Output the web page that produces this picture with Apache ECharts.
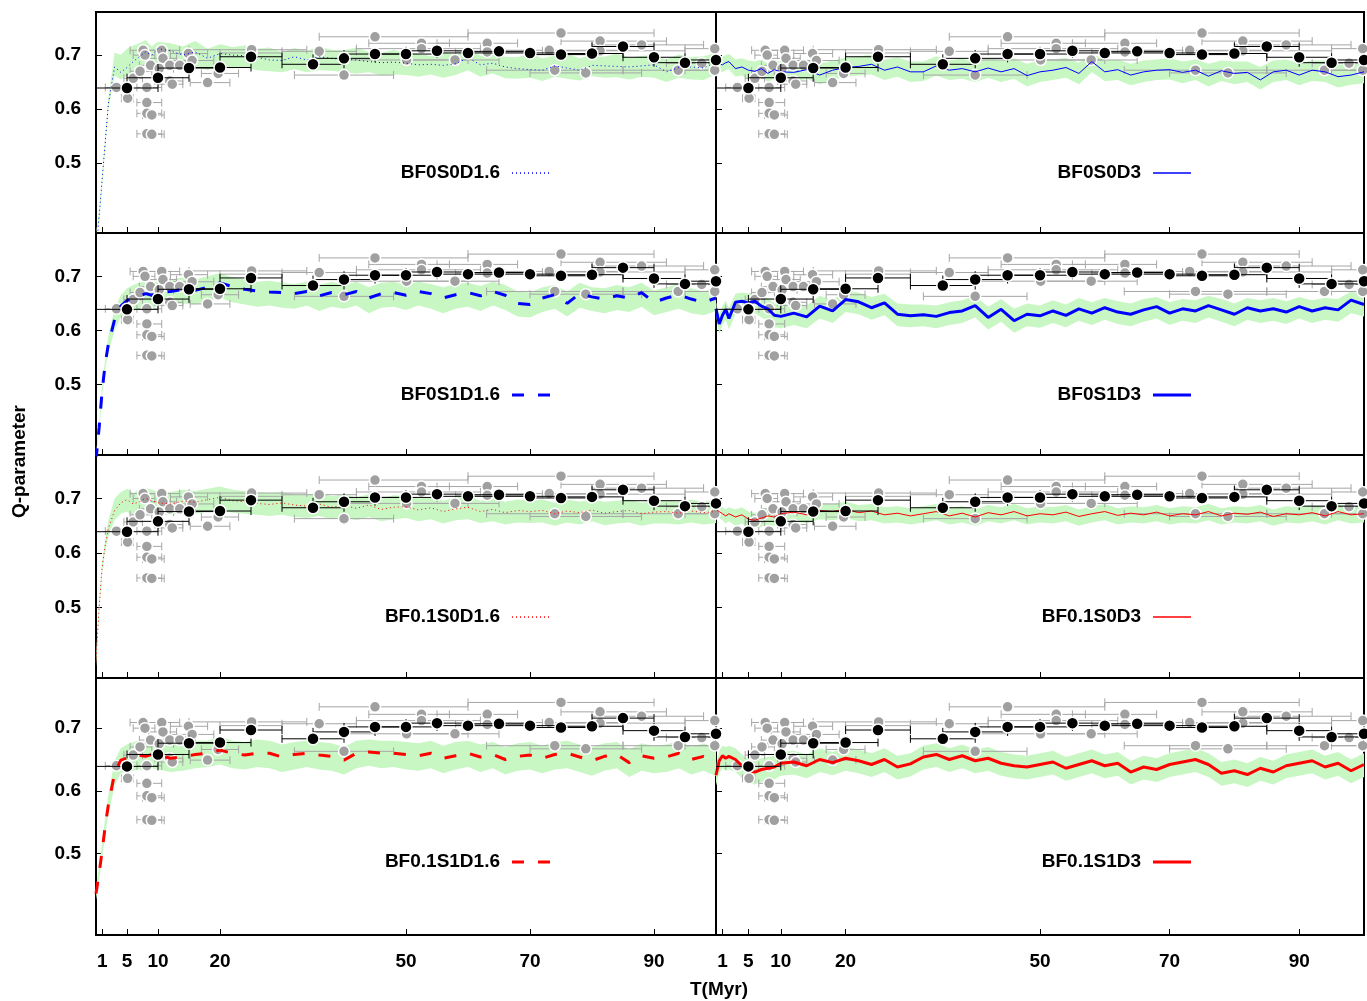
<!DOCTYPE html>
<html>
<head>
<meta charset="utf-8">
<title>Q-parameter vs T</title>
<script src="https://cdn.jsdelivr.net/npm/echarts@6/dist/echarts.min.js"></script>
<style>
  html, body { margin: 0; padding: 0; background: #fff; }
  #chart { width: 1367px; height: 1001px; }
</style>
</head>
<body>
<div id="chart"></div>
<script>
// time grid of the simulation curves (Myr)
var T_SIM = [0,0.5,1,1.5,2,3,4,5,6,7,8,9,10,
  12,14,16,18,20,22,24,26,28,30,
  32,34,36,38,40,42,44,46,48,50,
  52,54,56,58,60,62,64,66,68,70,
  72,74,76,78,80,82,84,86,88,90,
  92,94,96,98,100];

// BF0S0D1.6
var Q_BF0S0D16 = [0.33,0.40,0.47,0.54,0.61,0.678,0.668,0.677,0.688,0.697,0.706,0.700,0.712,
  0.708,0.700,0.706,0.694,0.703,0.700,0.699,0.696,0.691,0.690,
  0.697,0.691,0.697,0.694,0.692,0.691,0.688,0.686,0.687,0.685,
  0.682,0.683,0.681,0.684,0.695,0.682,0.685,0.678,0.675,0.673,
  0.672,0.680,0.676,0.672,0.681,0.680,0.679,0.678,0.680,0.682,
  0.669,0.677,0.678,0.676,0.687];
var HI_BF0S0D16 = [0.34,0.41,0.48,0.55,0.62,0.705,0.700,0.712,0.718,0.722,0.728,0.716,0.725,
  0.722,0.716,0.726,0.712,0.720,0.715,0.718,0.712,0.714,0.706,
  0.713,0.708,0.716,0.710,0.709,0.714,0.706,0.704,0.710,0.702,
  0.703,0.698,0.706,0.700,0.712,0.699,0.704,0.697,0.696,0.703,
  0.694,0.699,0.702,0.694,0.700,0.697,0.703,0.695,0.699,0.700,
  0.692,0.701,0.696,0.698,0.704];
var LO_BF0S0D16 = [0.32,0.39,0.46,0.53,0.60,0.662,0.655,0.662,0.668,0.674,0.682,0.676,0.686,
  0.684,0.676,0.680,0.672,0.681,0.675,0.678,0.672,0.670,0.668,
  0.674,0.668,0.672,0.671,0.668,0.666,0.668,0.662,0.664,0.663,
  0.660,0.664,0.658,0.663,0.672,0.660,0.666,0.657,0.656,0.658,
  0.652,0.660,0.656,0.653,0.661,0.658,0.659,0.655,0.660,0.658,
  0.650,0.658,0.655,0.654,0.664];

// BF0S0D3
var Q_BF0S0D3 = [0.688,0.684,0.682,0.686,0.688,0.675,0.678,0.672,0.670,0.675,0.666,0.673,0.669,
  0.668,0.673,0.663,0.672,0.677,0.679,0.683,0.672,0.678,0.669,
  0.669,0.680,0.672,0.675,0.669,0.676,0.669,0.675,0.662,0.669,
  0.672,0.677,0.666,0.688,0.669,0.673,0.663,0.669,0.672,0.673,
  0.668,0.672,0.661,0.671,0.666,0.668,0.654,0.669,0.672,0.663,
  0.672,0.669,0.660,0.663,0.669];
var HI_BF0S0D3 = [0.700,0.698,0.697,0.700,0.702,0.692,0.694,0.690,0.688,0.692,0.684,0.690,0.688,
  0.686,0.692,0.684,0.690,0.695,0.698,0.700,0.692,0.696,0.688,
  0.688,0.698,0.690,0.694,0.686,0.695,0.690,0.694,0.684,0.690,
  0.692,0.695,0.686,0.704,0.690,0.692,0.684,0.690,0.692,0.694,
  0.688,0.692,0.684,0.690,0.688,0.688,0.678,0.690,0.692,0.684,
  0.690,0.690,0.682,0.684,0.688];
var LO_BF0S0D3 = [0.676,0.672,0.668,0.672,0.674,0.660,0.662,0.655,0.654,0.660,0.650,0.656,0.652,
  0.650,0.656,0.646,0.654,0.660,0.662,0.664,0.654,0.660,0.650,
  0.652,0.662,0.654,0.656,0.650,0.658,0.650,0.656,0.642,0.650,
  0.654,0.658,0.646,0.668,0.652,0.654,0.644,0.650,0.654,0.655,
  0.648,0.654,0.642,0.652,0.646,0.650,0.636,0.650,0.654,0.644,
  0.652,0.650,0.640,0.645,0.648];

// BF0S1D1.6
var Q_BF0S1D16 = [0.36,0.42,0.49,0.54,0.575,0.62,0.645,0.655,0.660,0.663,0.668,0.665,0.670,
  0.672,0.676,0.674,0.680,0.688,0.681,0.676,0.673,0.671,0.670,
  0.668,0.672,0.664,0.670,0.666,0.672,0.660,0.668,0.670,0.665,
  0.672,0.668,0.660,0.666,0.670,0.664,0.672,0.665,0.650,0.648,
  0.660,0.666,0.650,0.668,0.662,0.658,0.664,0.660,0.670,0.652,
  0.660,0.666,0.658,0.652,0.660];
var HI_BF0S1D16 = [0.37,0.43,0.50,0.55,0.59,0.64,0.665,0.678,0.684,0.688,0.690,0.686,0.692,
  0.694,0.698,0.694,0.700,0.706,0.698,0.694,0.690,0.692,0.688,
  0.686,0.690,0.684,0.690,0.684,0.690,0.680,0.688,0.690,0.684,
  0.690,0.686,0.680,0.686,0.688,0.682,0.690,0.684,0.672,0.670,
  0.680,0.684,0.672,0.688,0.680,0.678,0.684,0.680,0.688,0.674,
  0.680,0.686,0.678,0.672,0.680];
var LO_BF0S1D16 = [0.35,0.41,0.48,0.53,0.56,0.60,0.625,0.632,0.636,0.640,0.644,0.640,0.646,
  0.648,0.650,0.648,0.654,0.660,0.652,0.648,0.644,0.646,0.642,
  0.640,0.646,0.636,0.644,0.640,0.646,0.632,0.642,0.644,0.638,
  0.646,0.640,0.632,0.640,0.644,0.636,0.646,0.638,0.626,0.624,
  0.634,0.640,0.626,0.642,0.636,0.632,0.638,0.634,0.644,0.628,
  0.634,0.640,0.632,0.628,0.636];

// BF0S1D3
var Q_BF0S1D3 = [0.640,0.612,0.628,0.639,0.622,0.652,0.654,0.651,0.654,0.645,0.640,0.628,0.626,
  0.632,0.625,0.645,0.636,0.657,0.653,0.642,0.651,0.630,0.627,
  0.629,0.626,0.633,0.636,0.646,0.624,0.639,0.618,0.630,0.627,
  0.636,0.628,0.640,0.632,0.642,0.634,0.630,0.638,0.644,0.632,
  0.640,0.636,0.646,0.638,0.630,0.642,0.636,0.640,0.634,0.644,
  0.636,0.642,0.638,0.656,0.648];
var HI_BF0S1D3 = [0.652,0.630,0.646,0.655,0.642,0.668,0.670,0.668,0.672,0.664,0.660,0.650,0.648,
  0.652,0.646,0.664,0.656,0.674,0.670,0.662,0.668,0.650,0.648,
  0.648,0.646,0.652,0.656,0.664,0.644,0.658,0.640,0.650,0.646,
  0.656,0.648,0.660,0.652,0.660,0.654,0.650,0.658,0.662,0.652,
  0.658,0.656,0.664,0.658,0.650,0.660,0.656,0.660,0.654,0.662,
  0.656,0.660,0.658,0.672,0.666];
var LO_BF0S1D3 = [0.628,0.594,0.610,0.620,0.602,0.630,0.632,0.630,0.632,0.624,0.618,0.606,0.604,
  0.610,0.604,0.622,0.614,0.634,0.630,0.620,0.628,0.608,0.606,
  0.608,0.604,0.610,0.614,0.624,0.602,0.616,0.596,0.608,0.605,
  0.614,0.606,0.618,0.610,0.620,0.612,0.608,0.616,0.622,0.610,
  0.618,0.614,0.624,0.616,0.608,0.620,0.614,0.618,0.612,0.622,
  0.614,0.620,0.616,0.632,0.626];

// BF0.1S0D1.6
var Q_BF01S0D16 = [0.40,0.50,0.575,0.615,0.645,0.678,0.692,0.698,0.690,0.694,0.700,0.696,0.692,
  0.690,0.695,0.693,0.698,0.702,0.696,0.694,0.691,0.689,0.692,
  0.688,0.686,0.690,0.684,0.687,0.682,0.688,0.680,0.684,0.685,
  0.679,0.683,0.676,0.681,0.684,0.676,0.680,0.674,0.678,0.676,
  0.678,0.672,0.677,0.674,0.679,0.673,0.676,0.678,0.672,0.675,
  0.676,0.673,0.677,0.674,0.676];
var HI_BF01S0D16 = [0.41,0.51,0.585,0.625,0.660,0.700,0.712,0.718,0.710,0.716,0.720,0.716,0.712,
  0.712,0.716,0.714,0.718,0.722,0.716,0.714,0.712,0.710,0.712,
  0.708,0.706,0.712,0.704,0.708,0.702,0.708,0.700,0.706,0.704,
  0.700,0.702,0.696,0.702,0.704,0.696,0.700,0.694,0.698,0.696,
  0.698,0.692,0.698,0.694,0.698,0.694,0.696,0.698,0.692,0.696,
  0.696,0.694,0.698,0.694,0.698];
var LO_BF01S0D16 = [0.39,0.49,0.565,0.605,0.630,0.660,0.672,0.676,0.668,0.672,0.680,0.674,0.670,
  0.670,0.674,0.672,0.676,0.680,0.674,0.672,0.670,0.668,0.670,
  0.666,0.664,0.668,0.662,0.666,0.660,0.666,0.658,0.662,0.664,
  0.658,0.662,0.654,0.660,0.662,0.655,0.658,0.652,0.656,0.655,
  0.656,0.650,0.656,0.652,0.658,0.651,0.654,0.656,0.650,0.654,
  0.654,0.652,0.656,0.652,0.655];

// BF0.1S0D3
var Q_BF01S0D3 = [0.680,0.676,0.672,0.668,0.672,0.666,0.670,0.662,0.660,0.664,0.668,0.666,0.672,
  0.675,0.670,0.678,0.676,0.680,0.674,0.677,0.670,0.673,0.668,
  0.672,0.676,0.668,0.673,0.666,0.674,0.670,0.676,0.668,0.672,
  0.670,0.675,0.667,0.672,0.676,0.669,0.673,0.670,0.675,0.668,
  0.672,0.670,0.676,0.668,0.673,0.671,0.675,0.667,0.672,0.670,
  0.674,0.668,0.676,0.670,0.672];
var HI_BF01S0D3 = [0.690,0.688,0.684,0.680,0.684,0.680,0.684,0.676,0.674,0.678,0.682,0.680,0.686,
  0.688,0.684,0.692,0.690,0.694,0.688,0.690,0.684,0.686,0.682,
  0.686,0.690,0.682,0.686,0.680,0.688,0.684,0.690,0.682,0.686,
  0.684,0.688,0.680,0.686,0.690,0.682,0.686,0.684,0.688,0.682,
  0.686,0.684,0.690,0.682,0.686,0.684,0.688,0.680,0.686,0.684,
  0.688,0.682,0.690,0.684,0.686];
var LO_BF01S0D3 = [0.668,0.664,0.660,0.654,0.658,0.650,0.654,0.646,0.645,0.648,0.652,0.650,0.656,
  0.658,0.654,0.662,0.660,0.664,0.658,0.660,0.654,0.656,0.652,
  0.656,0.660,0.652,0.656,0.650,0.658,0.654,0.660,0.652,0.656,
  0.654,0.658,0.650,0.656,0.660,0.652,0.656,0.654,0.658,0.652,
  0.656,0.654,0.660,0.652,0.656,0.654,0.658,0.650,0.656,0.654,
  0.658,0.652,0.660,0.654,0.656];

// BF0.1S1D1.6
var Q_BF01S1D16 = [0.436,0.468,0.505,0.545,0.578,0.628,0.649,0.652,0.655,0.657,0.655,0.658,0.657,
  0.652,0.654,0.658,0.660,0.665,0.660,0.657,0.660,0.660,0.654,
  0.658,0.660,0.657,0.655,0.649,0.660,0.662,0.660,0.660,0.658,
  0.656,0.660,0.652,0.656,0.660,0.654,0.658,0.650,0.655,0.657,
  0.652,0.658,0.660,0.654,0.648,0.655,0.658,0.645,0.656,0.652,
  0.654,0.660,0.650,0.655,0.645];
var HI_BF01S1D16 = [0.446,0.480,0.518,0.560,0.594,0.648,0.668,0.674,0.678,0.680,0.678,0.680,0.678,
  0.674,0.676,0.680,0.680,0.686,0.680,0.678,0.682,0.680,0.674,
  0.678,0.680,0.678,0.676,0.670,0.680,0.682,0.680,0.680,0.678,
  0.676,0.680,0.672,0.678,0.680,0.674,0.678,0.670,0.676,0.678,
  0.672,0.678,0.680,0.674,0.670,0.676,0.678,0.666,0.676,0.672,
  0.674,0.680,0.670,0.676,0.668];
var LO_BF01S1D16 = [0.426,0.456,0.492,0.530,0.562,0.608,0.628,0.630,0.632,0.634,0.632,0.636,0.634,
  0.630,0.632,0.636,0.638,0.642,0.636,0.634,0.638,0.636,0.630,
  0.634,0.638,0.634,0.632,0.626,0.636,0.640,0.636,0.638,0.634,
  0.632,0.636,0.628,0.634,0.638,0.630,0.636,0.626,0.632,0.634,
  0.628,0.634,0.636,0.630,0.624,0.632,0.636,0.622,0.632,0.628,
  0.630,0.636,0.626,0.632,0.624];

// BF0.1S1D3
var Q_BF01S1D3 = [0.625,0.648,0.656,0.652,0.655,0.650,0.640,0.632,0.630,0.634,0.636,0.638,0.644,
  0.646,0.640,0.650,0.645,0.652,0.648,0.642,0.650,0.638,0.643,
  0.654,0.658,0.650,0.656,0.648,0.652,0.644,0.640,0.638,0.642,
  0.646,0.636,0.642,0.648,0.640,0.644,0.630,0.638,0.634,0.642,
  0.646,0.650,0.642,0.628,0.632,0.626,0.636,0.630,0.640,0.644,
  0.648,0.638,0.644,0.632,0.642];
var HI_BF01S1D3 = [0.640,0.664,0.672,0.670,0.672,0.668,0.658,0.650,0.648,0.652,0.654,0.656,0.662,
  0.664,0.658,0.668,0.662,0.670,0.666,0.660,0.668,0.656,0.660,
  0.672,0.676,0.668,0.674,0.666,0.670,0.662,0.658,0.656,0.660,
  0.664,0.654,0.660,0.666,0.658,0.662,0.648,0.656,0.652,0.660,
  0.664,0.668,0.660,0.646,0.650,0.644,0.654,0.648,0.658,0.662,
  0.666,0.656,0.662,0.650,0.660];
var LO_BF01S1D3 = [0.608,0.628,0.636,0.632,0.634,0.630,0.620,0.612,0.610,0.614,0.616,0.618,0.624,
  0.626,0.620,0.630,0.625,0.632,0.628,0.622,0.630,0.618,0.623,
  0.634,0.638,0.630,0.636,0.628,0.632,0.624,0.620,0.618,0.622,
  0.626,0.616,0.622,0.628,0.620,0.624,0.610,0.618,0.614,0.622,
  0.626,0.630,0.622,0.608,0.612,0.606,0.616,0.610,0.620,0.624,
  0.628,0.618,0.624,0.612,0.622];

// observed clusters, binned (black)
var OBS_T    = [5,10,15,20,25,35,40,45,50,55,60,65,70,75,80,85,90,95,100];
var OBS_Q    = [0.639,0.658,0.676,0.677,0.697,0.683,0.694,0.702,0.702,0.708,0.704,0.707,0.704,0.701,0.703,0.716,0.696,0.686,0.691];
var OBS_TERR = [5,5,5,5,5,5,5,5,5,5,5,5,5,5,5,5,5,5,5];
var OBS_QERR = [0.008,0.010,0.012,0.008,0.010,0.008,0.009,0.007,0.008,0.007,0.008,0.006,0.008,0.007,0.009,0.008,0.012,0.008,0.010];

// individual clusters (grey)
var GRAY_T   = [3.3,5.1,6.0,7.1,7.6,7.9,8.2,8.2,8.2,9.0,8.2,9.0,8.8,10.6,10.8,10.2,11.9,11.9,12.3,13.5,14.9,15.5,18.0,19.7,25.1,25.1,36,40,45,50.1,52.5,52.5,57.9,63.1,63.1,74,75,73.1,79,81.3,81.3,88,93.9,97.7,99.8,99.8];
var GRAY_Q   = [0.640,0.620,0.657,0.670,0.709,0.700,0.640,0.612,0.592,0.589,0.554,0.553,0.681,0.709,0.694,0.675,0.681,0.652,0.646,0.681,0.703,0.690,0.649,0.666,0.704,0.710,0.707,0.663,0.734,0.691,0.722,0.712,0.691,0.722,0.706,0.672,0.741,0.709,0.667,0.726,0.708,0.719,0.672,0.685,0.712,0.672];
var GRAY_TLO = [1.5,4.1,4.5,5.5,5.5,6,6.6,6.6,6.6,7.5,6.6,7.5,7,8,8.5,8,9.5,9.5,10,11,12,12,15.2,17,20,15,30,32,36,40,44,42,50,55,58,63,60,65,70,75,72,80,85,92,95,95];
var GRAY_THI = [5,6.0,7.5,9,10,9.5,10.6,10.6,10.6,11,10.6,11,11,13.5,13,12.5,14.5,14,14,16,18,19,21.6,23,30,34,42,48,60,60,57,62,65,68,70,85,90,85,88,92,95,98,100,100,100,100];
var GRAY_QERR = [0.006,0.006,0.006,0.006,0.006,0.006,0.006,0.006,0.006,0.006,0.006,0.006,0.006,0.006,0.006,0.006,0.006,0.006,0.006,0.006,0.006,0.006,0.006,0.006,0.006,0.006,0.006,0.006,0.006,0.006,0.006,0.006,0.006,0.006,0.006,0.006,0.006,0.006,0.006,0.006,0.006,0.006,0.006,0.006,0.006,0.006];

var X_TICKS = [1,5,10,20,50,70,90];
var Y_TICKS = [0.5,0.6,0.7];

;(function() {
  'use strict';

  var FONT = '"Liberation Sans", Arial, Helvetica, sans-serif';
  var BAND = '#c8f7c4';
  var BLUE = '#0000ff', RED = '#ff0000';

  var ROWS = [{ top: 12, h: 221 }, { top: 233, h: 222 }, { top: 455, h: 223 }, { top: 678, h: 257 }];
  // key: text right edge and sample line start/end for each column
  var COLS = [{ left: 96, w: 620, keyText: 500, keyX1: 512, keyX2: 550 },
              { left: 716, w: 648, keyText: 1141, keyX1: 1153, keyX2: 1191 }];
  var KEY_Y = [173, 395, 617, 862];

  var panels = [
    { name: 'BF0S0D1.6',   q: Q_BF0S0D16,  lo: LO_BF0S0D16,  hi: HI_BF0S0D16,  color: BLUE, width: 1, type: [1, 3] },
    { name: 'BF0S0D3',     q: Q_BF0S0D3,   lo: LO_BF0S0D3,   hi: HI_BF0S0D3,   color: BLUE, width: 1, type: 'solid' },
    { name: 'BF0S1D1.6',   q: Q_BF0S1D16,  lo: LO_BF0S1D16,  hi: HI_BF0S1D16,  color: BLUE, width: 3, type: [12, 14] },
    { name: 'BF0S1D3',     q: Q_BF0S1D3,   lo: LO_BF0S1D3,   hi: HI_BF0S1D3,   color: BLUE, width: 3, type: 'solid' },
    { name: 'BF0.1S0D1.6', q: Q_BF01S0D16, lo: LO_BF01S0D16, hi: HI_BF01S0D16, color: RED,  width: 1, type: [1, 3] },
    { name: 'BF0.1S0D3',   q: Q_BF01S0D3,  lo: LO_BF01S0D3,  hi: HI_BF01S0D3,  color: RED,  width: 1, type: 'solid' },
    { name: 'BF0.1S1D1.6', q: Q_BF01S1D16, lo: LO_BF01S1D16, hi: HI_BF01S1D16, color: RED,  width: 3, type: [12, 14] },
    { name: 'BF0.1S1D3',   q: Q_BF01S1D3,  lo: LO_BF01S1D3,  hi: HI_BF01S1D3,  color: RED,  width: 3, type: 'solid' }
  ];

  var grayData = GRAY_T.map(function(t, i) {
    return [t, GRAY_Q[i], GRAY_TLO[i], GRAY_THI[i], GRAY_QERR[i]];
  });
  var obsData = OBS_T.map(function(t, i) {
    return [t, OBS_Q[i], t - OBS_TERR[i], t + OBS_TERR[i], OBS_QERR[i]];
  });

  function bandRender(lo, hi) {
    return function(params, api) {
      if (params.dataIndex !== 0) return;
      var pts = [], k;
      for (k = 0; k < T_SIM.length; k++) pts.push(api.coord([T_SIM[k], hi[k]]));
      for (k = T_SIM.length - 1; k >= 0; k--) pts.push(api.coord([T_SIM[k], lo[k]]));
      pts = echarts.graphic.clipPointsByRect(pts, params.coordSys);
      return { type: 'polygon', shape: { points: pts }, style: { fill: BAND } };
    };
  }

  function errRender(color, cap) {
    return function(params, api) {
      var t = api.value(0), q = api.value(1), dq = api.value(4);
      var pl = api.coord([api.value(2), q]), pr = api.coord([api.value(3), q]);
      var pt = api.coord([t, q + dq]), pb = api.coord([t, q - dq]);
      var st = { stroke: color, lineWidth: 1 };
      function seg(x1, y1, x2, y2) {
        return { type: 'line', shape: { x1: x1, y1: y1, x2: x2, y2: y2 }, style: st };
      }
      return {
        type: 'group',
        children: [
          seg(pl[0], pl[1], pr[0], pr[1]),
          seg(pl[0], pl[1] - cap, pl[0], pl[1] + cap),
          seg(pr[0], pr[1] - cap, pr[0], pr[1] + cap),
          seg(pt[0], pt[1], pb[0], pb[1])
        ]
      };
    };
  }

  var grid = [], xAxis = [], yAxis = [], series = [];
  var graphic = [
    {
      type: 'text', left: 690, top: 980,
      style: { text: 'T(Myr)', fontSize: 19, fontWeight: 'bold', fontFamily: FONT, fill: '#000' }
    },
    {
      type: 'text', x: 10, y: 518, rotation: Math.PI / 2,
      style: { text: 'Q-parameter', fontSize: 19, fontWeight: 'bold', fontFamily: FONT, fill: '#000' }
    }
  ];

  panels.forEach(function(p, i) {
    var r = Math.floor(i / 2), c = i % 2;
    var row = ROWS[r], col = COLS[c];
    grid.push({
      left: col.left, top: row.top, width: col.w, height: row.h,
      show: true, borderColor: '#000', borderWidth: 2, backgroundColor: 'transparent'
    });
    xAxis.push({
      type: 'value', gridIndex: i, min: 0, max: 100,
      axisLine: { show: false },
      splitLine: { show: false },
      axisTick: { show: true, inside: true, length: 6, customValues: X_TICKS, lineStyle: { color: '#000', width: 1 } },
      axisLabel: {
        show: r === 3, customValues: X_TICKS, margin: 17,
        fontSize: 19, fontWeight: 'bold', fontFamily: FONT, color: '#000'
      }
    });
    yAxis.push({
      type: 'value', gridIndex: i, min: 0.37, max: 0.78,
      axisLine: { show: false },
      splitLine: { show: false },
      axisTick: { show: true, inside: true, length: 6, customValues: Y_TICKS, lineStyle: { color: '#000', width: 1 } },
      axisLabel: {
        show: c === 0, customValues: Y_TICKS, margin: 15,
        fontSize: 19, fontWeight: 'bold', fontFamily: FONT, color: '#000',
        formatter: function(v) { return v.toFixed(1); }
      }
    });

    series.push({
      type: 'custom', name: 'band' + i, xAxisIndex: i, yAxisIndex: i,
      data: [[0, 0]], renderItem: bandRender(p.lo, p.hi), z: 1, silent: true
    });
    series.push({
      type: 'custom', name: 'grayErr' + i, xAxisIndex: i, yAxisIndex: i, clip: true,
      data: grayData, renderItem: errRender('#a6a6a6', 4), z: 2, silent: true
    });
    series.push({
      type: 'scatter', name: 'gray' + i, xAxisIndex: i, yAxisIndex: i,
      data: grayData, symbolSize: 11, z: 3, silent: true,
      itemStyle: { color: '#a0a0a0', borderColor: '#fff', borderWidth: 1.5, opacity: 1 }
    });
    series.push({
      type: 'line', name: p.name, xAxisIndex: i, yAxisIndex: i,
      data: T_SIM.map(function(t, k) { return [t, p.q[k]]; }),
      symbol: 'none', clip: true, z: 4, silent: true,
      itemStyle: { color: p.color },
      lineStyle: { color: p.color, width: p.width, type: p.type }
    });
    series.push({
      type: 'custom', name: 'obsErr' + i, xAxisIndex: i, yAxisIndex: i, clip: true,
      data: obsData, renderItem: errRender('#000', 4), z: 5, silent: true
    });
    series.push({
      type: 'scatter', name: 'obs' + i, xAxisIndex: i, yAxisIndex: i,
      data: obsData, symbolSize: 12, z: 6, silent: true,
      itemStyle: { color: '#000', borderColor: '#fff', borderWidth: 1.5, opacity: 1 }
    });

    // key: label + line sample, as in the gnuplot key
    graphic.push({
      type: 'text', x: col.keyText, y: KEY_Y[r],
      style: {
        text: p.name, fontSize: 19, fontWeight: 'bold', fontFamily: FONT, fill: '#000',
        align: 'right', verticalAlign: 'middle'
      }
    });
    graphic.push({
      type: 'line',
      shape: { x1: col.keyX1, y1: KEY_Y[r], x2: col.keyX2, y2: KEY_Y[r] },
      style: { stroke: p.color, lineWidth: p.width === 1 ? 1.3 : p.width, lineDash: p.type === 'solid' ? null : p.type }
    });
  });

  var chart = echarts.init(document.getElementById('chart'), null, { renderer: 'canvas' });
  chart.setOption({
    animation: false,
    backgroundColor: '#fff',
    grid: grid, xAxis: xAxis, yAxis: yAxis, series: series,
    graphic: graphic
  });
})();
</script>
</body>
</html>
